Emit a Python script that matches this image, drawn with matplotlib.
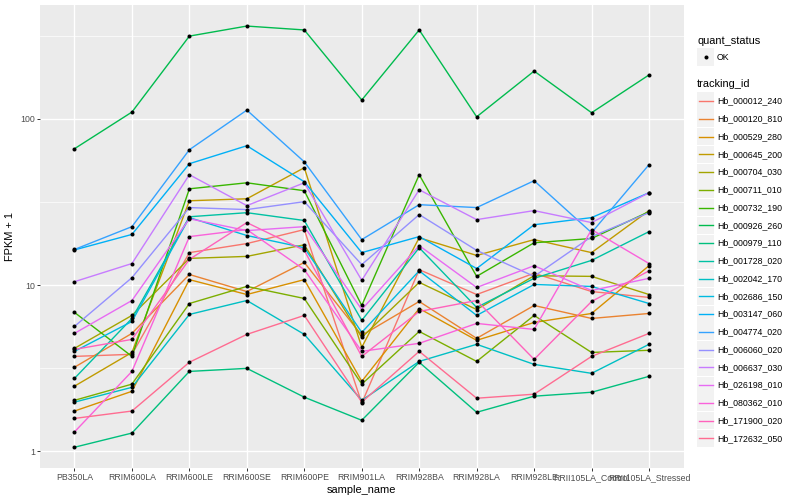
import numpy as np
import matplotlib.pyplot as plt
from matplotlib.patches import Rectangle
from matplotlib.lines import Line2D
from matplotlib.ticker import FixedLocator

plt.rcParams['font.family'] = ['Liberation Sans', 'DejaVu Sans']

samples = ['PB350LA', 'RRIM600LA', 'RRIM600LE', 'RRIM600SE', 'RRIM600PE', 'RRIM901LA',
           'RRIM928BA', 'RRIM928LA', 'RRIM928LE', 'RRII105LA_Control', 'RRII105LA_Stressed']

tracking_ids = ['Hb_000012_240', 'Hb_000120_810', 'Hb_000529_280', 'Hb_000645_200',
                'Hb_000704_030', 'Hb_000711_010', 'Hb_000732_190', 'Hb_000926_260',
                'Hb_000979_110', 'Hb_001728_020', 'Hb_002042_170', 'Hb_002686_150',
                'Hb_003147_060', 'Hb_004774_020', 'Hb_006060_020', 'Hb_006637_030',
                'Hb_026198_010', 'Hb_080362_010', 'Hb_171900_020', 'Hb_172632_050']

# ggplot hue palette, 20 levels
colours = ['#F8766D', '#EA8331', '#D89000', '#C09B00', '#A3A500', '#7CAE00', '#39B600',
           '#00BB4E', '#00BF7D', '#00C1A3', '#00BFC4', '#00BAE0', '#00B0F6', '#35A2FF',
           '#9590FF', '#C77CFF', '#E76BF3', '#FA62DB', '#FF62BC', '#FF6C91']

# FPKM + 1, one list per gene, in sample order
fpkm_000012 = [3.73, 3.84, 15.7, 17.8, 21.6, 1.95, 12.4, 8.79, 11.8, 9.16, 8.44]
fpkm_000120 = [3.21, 5.13, 11.6, 9.16, 13.7, 4.99, 7.98, 4.79, 7.55, 6.31, 6.76]
fpkm_000529 = [1.75, 2.30, 10.8, 8.79, 10.8, 2.64, 7.24, 4.66, 5.97, 6.76, 13.1]
fpkm_000645 = [2.47, 3.94, 32.2, 33.1, 50.9, 4.23, 19.3, 15.1, 18.8, 15.7, 28.1]
fpkm_000704 = [4.17, 6.58, 14.5, 14.9, 17.5, 4.85, 10.4, 7.14, 11.4, 11.3, 8.79]
fpkm_000711 = [2.03, 2.54, 7.76, 9.83, 8.32, 2.54, 5.27, 3.48, 6.58, 3.94, 4.06]
fpkm_000732 = [6.86, 3.73, 38.0, 41.3, 37.0, 7.55, 46.2, 11.3, 18.0, 19.1, 27.7]
fpkm_000926 = [66.2, 110, 315, 362, 343, 130, 343, 103, 194, 109, 184]
fpkm_000979 = [1.06, 1.29, 3.03, 3.16, 2.12, 1.54, 3.44, 1.72, 2.15, 2.27, 2.83]
fpkm_001728 = [2.75, 6.31, 25.8, 27.3, 24.5, 6.14, 16.8, 7.35, 11.0, 14.1, 21.0]
fpkm_002042 = [1.98, 2.43, 6.67, 8.09, 5.06, 2.03, 3.48, 4.41, 3.34, 2.95, 4.41]
fpkm_002686 = [4.00, 6.05, 25.5, 19.9, 16.8, 5.20, 12.2, 6.58, 10.1, 9.83, 7.76]
fpkm_003147 = [16.3, 20.2, 53.8, 69.0, 41.9, 15.7, 19.6, 12.6, 23.1, 25.5, 36.0]
fpkm_004774 = [16.4, 22.5, 65.3, 113, 55.2, 18.8, 30.5, 29.3, 42.5, 20.7, 53.1]
fpkm_006060 = [5.65, 11.1, 29.3, 28.5, 31.8, 13.3, 26.6, 16.2, 11.3, 19.6, 27.3]
fpkm_006637 = [10.5, 13.5, 46.2, 30.1, 41.3, 10.7, 37.5, 24.8, 28.1, 23.8, 36.0]
fpkm_026198 = [5.13, 8.09, 25.1, 21.3, 22.5, 7.14, 17.3, 9.69, 13.1, 9.29, 11.0]
fpkm_080362 = [1.31, 3.03, 19.6, 21.6, 12.4, 4.00, 4.47, 5.89, 5.42, 21.6, 13.5]
fpkm_171900 = [4.11, 4.72, 14.3, 23.8, 16.2, 3.73, 6.95, 8.09, 3.58, 7.98, 12.2]
fpkm_172632 = [1.58, 1.75, 3.44, 5.06, 6.58, 1.98, 4.00, 2.09, 2.21, 3.73, 5.13]

series = [fpkm_000012, fpkm_000120, fpkm_000529, fpkm_000645, fpkm_000704, fpkm_000711,
          fpkm_000732, fpkm_000926, fpkm_000979, fpkm_001728, fpkm_002042, fpkm_002686,
          fpkm_003147, fpkm_004774, fpkm_006060, fpkm_006637, fpkm_026198, fpkm_080362,
          fpkm_171900, fpkm_172632]

W, H = 800, 500
fig = plt.figure(figsize=(8, 5), dpi=100)
ax = fig.add_axes([40 / W, 1 - 468.3 / H, (683.5 - 40) / W, (468.3 - 5) / H])
ax.set_facecolor('#EBEBEB')
for s in ax.spines.values():
    s.set_visible(False)

x = np.arange(1, len(samples) + 1)
for vals, col in zip(series, colours):
    ax.plot(x, vals, color=col, lw=1.0, zorder=2)
for vals in series:
    ax.plot(x, vals, 'o', color='black', ms=2.9, mew=0, zorder=3)

ax.set_yscale('log')
logs = np.log10(np.concatenate(series))
lo, hi = logs.min(), logs.max()
pad = 0.05 * (hi - lo)
ax.set_ylim(10 ** (lo - pad), 10 ** (hi + pad))
ax.set_xlim(0.4, len(samples) + 0.6)

ax.set_yticks([1, 10, 100])
ax.set_yticklabels(['1', '10', '100'])
ax.yaxis.set_minor_locator(FixedLocator([10 ** 0.5, 10 ** 1.5, 10 ** 2.5]))
ax.set_xticks(x)
ax.set_xticklabels(samples)
ax.tick_params(which='major', length=2, width=0.7, color='#333333',
               labelsize=6.3, labelcolor='#4D4D4D', pad=1.6)
ax.tick_params(which='minor', length=0)
ax.grid(which='major', color='white', lw=1.0)
ax.grid(which='minor', axis='y', color='white', lw=0.5)
ax.set_axisbelow(True)

ax.set_xlabel('sample_name', fontsize=7.9, labelpad=2)
ax.set_ylabel('FPKM + 1', fontsize=7.9, labelpad=4)

# legend, drawn by hand in ggplot style
def fx(px):
    return px / W

def fy(py):
    return 1 - py / H

fig.text(fx(697), fy(40.7), 'quant_status', fontsize=7.9, va='center')
fig.add_artist(Rectangle((fx(697), fy(65.5)), 17 / W, 17 / H, transform=fig.transFigure,
                         facecolor='#F2F2F2', edgecolor='none'))
fig.add_artist(Line2D([fx(705.5)], [fy(57)], marker='o', ms=2.9, color='black', mew=0,
                      transform=fig.transFigure))
fig.text(fx(717), fy(57), 'OK', fontsize=6.3, va='center')

fig.text(fx(697), fy(84), 'tracking_id', fontsize=7.9, va='center')
for i, (name, col) in enumerate(zip(tracking_ids, colours)):
    yc = 101 + 17.75 * i
    fig.add_artist(Rectangle((fx(697), fy(yc + 8.5)), 17 / W, 17 / H,
                             transform=fig.transFigure, facecolor='#F2F2F2', edgecolor='none'))
    fig.add_artist(Line2D([fx(698.5), fx(712.5)], [fy(yc), fy(yc)], color=col, lw=1.0,
                          transform=fig.transFigure))
    fig.text(fx(717), fy(yc), name, fontsize=6.3, va='center')

plt.savefig('out.png', dpi=100)
